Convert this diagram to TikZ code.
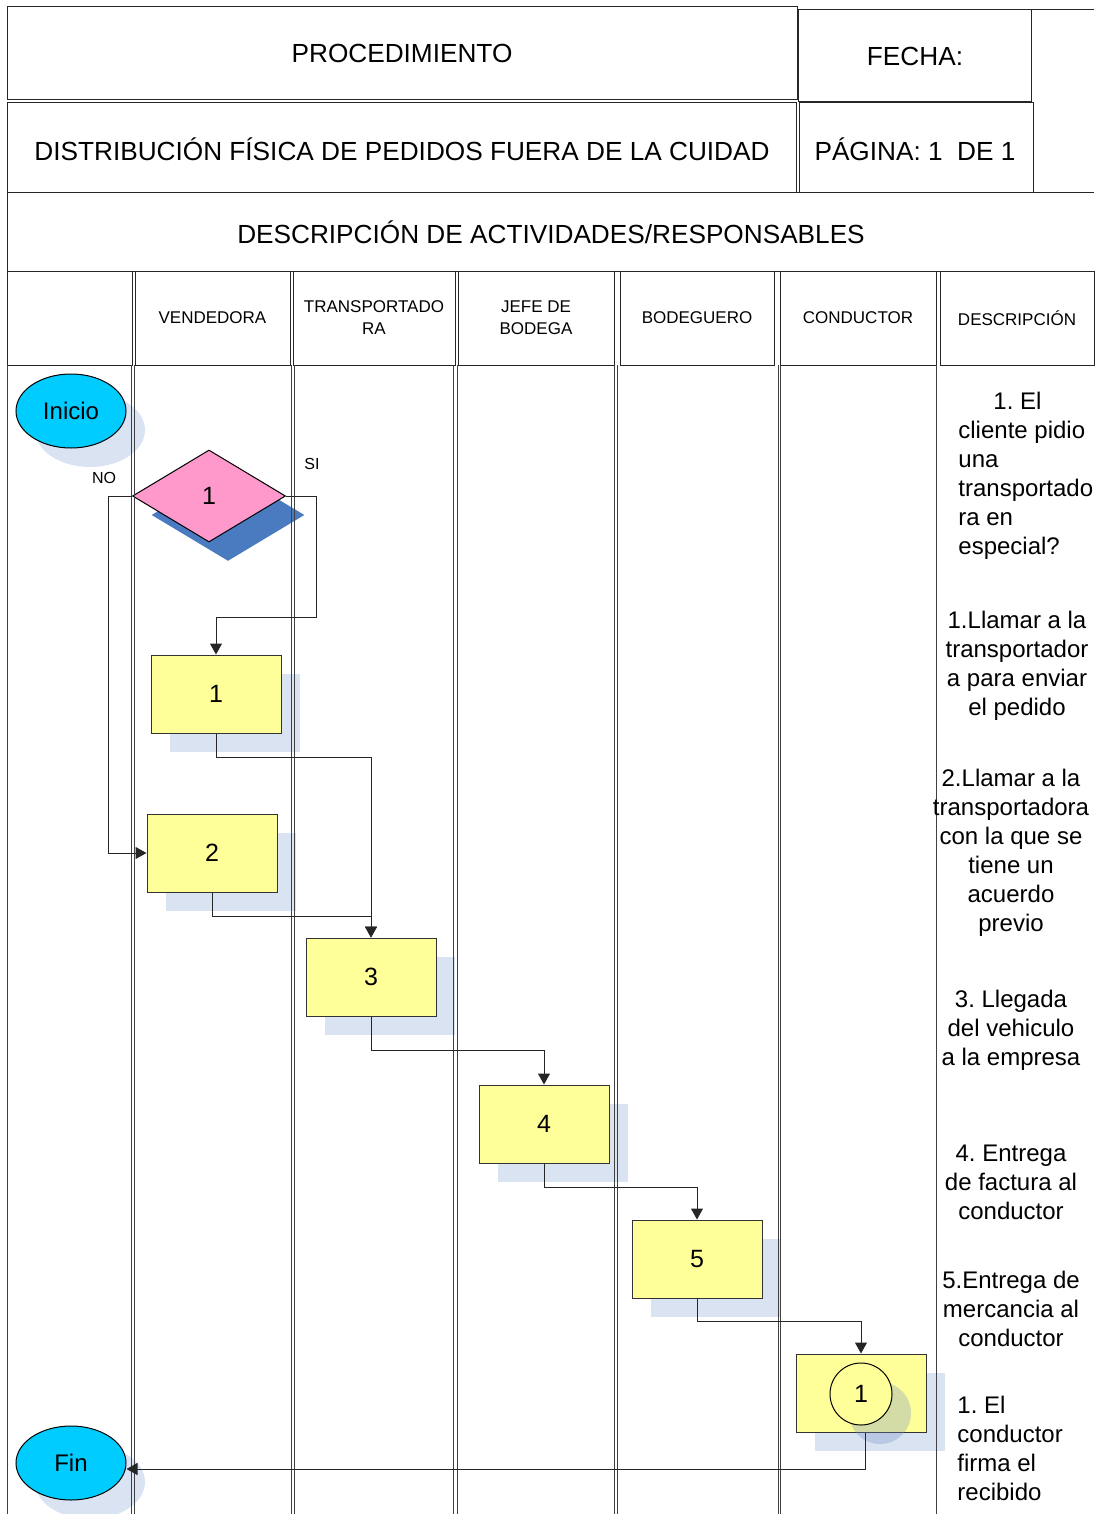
\documentclass[tikz,border=0pt]{standalone}
\usepackage{fontspec}
\setmainfont{Liberation Sans}
\frenchspacing
\usetikzlibrary{arrows.meta, shadows, shapes, positioning}
\definecolor{amarillo}{RGB}{255,255,153}
\definecolor{rosa}{RGB}{255,153,204}
\definecolor{celeste}{RGB}{0,204,255}
\definecolor{sombraClara}{RGB}{218,227,242}
\definecolor{sombraOscura}{RGB}{74,122,191}
\definecolor{sombraCirculo}{RGB}{110,140,200}
\tikzset{
    marco/.style={draw=black!85, line width=0.5pt},
    carrilLinea/.style={draw=black!75, line width=0.5pt},
    titulo/.style={font=\fontsize{13.1}{15}\selectfont, inner sep=0pt},
    carril/.style={font=\fontsize{8.5}{11}\selectfont, align=center, inner sep=0pt},
    desc/.style={font=\fontsize{12}{14.5}\selectfont, align=center, inner sep=0pt},
    rotulo/.style={font=\fontsize{8}{10}\selectfont, inner sep=0pt},
    sombra/.style={general shadow={shadow xshift=9.5pt, shadow yshift=-9.5pt, fill=#1}},
    sombra/.default=sombraClara,
    actividad/.style={draw=black!80, line width=0.5pt, fill=amarillo, rectangle,
        minimum width=65pt, minimum height=39pt, inner sep=0pt,
        font=\fontsize{12.5}{14}\selectfont, sombra},
    terminal/.style={draw=black, line width=0.5pt, fill=celeste, ellipse,
        minimum width=55pt, minimum height=37pt, inner sep=0pt,
        font=\fontsize{12}{14}\selectfont, sombra},
    decision/.style={draw=black, line width=0.5pt, fill=rosa, diamond,
        minimum width=76.5pt, minimum height=46pt, inner sep=0pt,
        font=\fontsize{12.5}{14}\selectfont, sombra=sombraOscura},
    conector/.style={draw=black, line width=0.5pt, fill=amarillo, circle,
        minimum size=31pt, inner sep=0pt, font=\fontsize{12.5}{14}\selectfont,
        general shadow={shadow xshift=9.5pt, shadow yshift=-9.5pt, fill=sombraCirculo, fill opacity=0.3}},
    flecha/.style={draw=black!85, line width=0.5pt, -{Triangle[length=5.5pt, width=6pt]}}
}

\begin{document}
\begin{tikzpicture}[x=0.5pt, y=-0.5pt]
    \useasboundingbox (0,0) rectangle (1094,1514);
    % encabezado
    \draw[marco] (7,7) rectangle (797,100);
    \draw[marco] (798,10) rectangle (1031,102);
    \draw[marco] (1031,10) -- (1094,10);
    \draw[marco] (7,103) rectangle (796,193);
    \draw[marco] (799,103) rectangle (1033,193);
    \draw[marco] (1094,193) -- (7,193) -- (7,271) -- (1094,271);
    \node[titulo] (proc) at (402,53) {PROCEDIMIENTO};
    \node[titulo] (fecha) at (915,56) {FECHA:};
    \node[titulo] (dist) at (402,149) {DISTRIBUCIÓN FÍSICA DE PEDIDOS FUERA DE LA CUIDAD};
    \node[titulo] (pag) at (915,149) {PÁGINA: 1\ \ DE 1};
    \node[titulo] (activ) at (551,232) {DESCRIPCIÓN DE ACTIVIDADES/RESPONSABLES};
    \foreach \xa/\xb/\txt [count=\i] in {7/132/{}, 135/290/VENDEDORA, 293/455/{TRANSPORTADO\\RA}, 458/614/{JEFE DE\\BODEGA}, 620/774/BODEGUERO, 780/936/CONDUCTOR, 940/1094/DESCRIPCIÓN}{
        \draw[marco] (\xa,271) rectangle (\xb,365);
        \node[carril] (c\i) at ({(\xa+\xb)/2},318) {\txt};
    }
    % figuras
    \node[terminal] (ini) at (71,411) {Inicio};
    \node[decision] (d1) at (209,496) {1};
    \node[actividad] (a1) at (216,694) {1};
    \node[actividad] (a2) at (212,853) {2};
    \node[actividad] (a3) at (371,977) {3};
    \node[actividad] (a4) at (544,1124) {4};
    \node[actividad] (a5) at (697,1259) {5};
    \node[actividad] (a6) at (861,1393) {};
    \node[conector] (k1) at (861,1394) {1};
    \node[terminal] (fin) at (71,1463) {Fin};
    \node[rotulo] (si) at (312,464) {SI};
    \node[rotulo] (no) at (104,478) {NO};
    % carriles
    \foreach \x in {7,131.5,134.5,291,294.5,453.5,457,614,617,778,780.5,936.5}
        \draw[carrilLinea] (\x,365) -- (\x,1514);
    % flujos
    \coordinate (psi) at (316,617);
    \coordinate (pno) at (108,496);
    \draw[flecha] (d1.east) -| (psi) -| (a1.north);
    \draw[flecha] (d1.west) -- (pno) |- (a2.west);
    \draw[flecha] (a1.south) -- ++(0,24) -| (a3.north);
    \draw[flecha] (a2.south) -- ++(0,24) -| (a3.north);
    \draw[flecha] (a3.south) -- ++(0,34) -| (a4.north);
    \draw[flecha] (a4.south) -- ++(0,24) -| (a5.north);
    \draw[flecha] (a5.south) -- ++(0,23) -| (a6.north);
    \draw[flecha] ([xshift=2pt]a6.south) |- ([yshift=-3pt]fin.east);
    % descripciones
    \node[desc, align=left, anchor=west] (t1) at (958,476) {\hspace*{17.5pt}1. El\\cliente pidio\\una\\transportado\\ra en\\especial?};
    \node[desc] (t2) at (1017,666) {1.Llamar a la\\transportador\\a para enviar\\el pedido};
    \node[desc] (t3) at (1011,853) {2.Llamar a la\\transportadora\\con la que se\\tiene un\\acuerdo\\previo};
    \node[desc] (t4) at (1011,1030) {3. Llegada\\del vehiculo\\a la empresa};
    \node[desc] (t5) at (1011,1182) {4. Entrega\\de factura al\\conductor};
    \node[desc] (t6) at (1011,1309) {5.Entrega de\\mercancia al\\conductor};
    \node[desc, align=left, anchor=west] (t7) at (957,1448) {1. El\\conductor\\firma el\\recibido};
\end{tikzpicture}
\end{document}
